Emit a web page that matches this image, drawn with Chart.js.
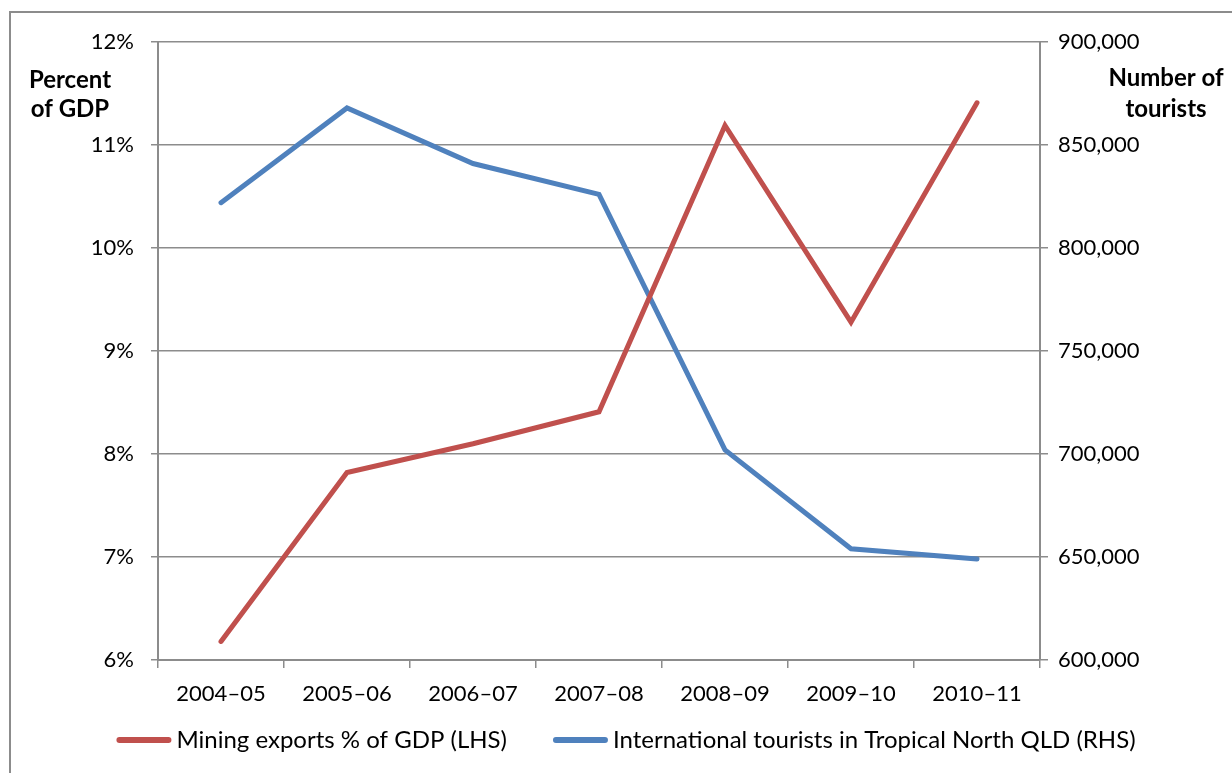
<!DOCTYPE html>
<html>
<head>
<meta charset="utf-8">
<script src="https://cdn.jsdelivr.net/npm/chart.js@4/dist/chart.umd.min.js"></script>
<style>
    html, body { margin: 0; padding: 0; background: #fff; overflow: hidden; }
    .frame {
        position: absolute; left: 9px; top: 11px; width: 1400px; height: 900px;
        border-left: 2px solid #8c8c8c; border-top: 2px solid #8c8c8c;
    }
    .wrap { position: absolute; left: 0; top: 0; width: 1232px; height: 773px; }
</style>
</head>
<body>
<div class="frame"></div>
<div class="wrap"><canvas id="chart" width="1232" height="773"></canvas></div>
<script>
const years = ['2004–05', '2005–06', '2006–07', '2007–08', '2008–09', '2009–10', '2010–11'];
const miningPct = [6.18, 7.82, 8.1, 8.41, 11.19, 9.28, 11.41];
const tourists = [822000, 868000, 841000, 826000, 702000, 654000, 649000];

const FONT = 'Lato, "Open Sans", sans-serif';
const gridGrey = '#8c8c8c';

// axis titles sit horizontally above the tick labels
const axisTitles = {
    id: 'axisTitles',
    afterDraw(chart) {
        const ctx = chart.ctx;
        ctx.save();
        ctx.fillStyle = '#000';
        ctx.font = 'bold 24px ' + FONT;
        ctx.textAlign = 'center';
        ctx.textBaseline = 'middle';
        ctx.fillText('Percent', 70, 80);
        ctx.fillText('of GDP', 70, 109);
        ctx.fillText('Number of', 1166, 78);
        ctx.fillText('tourists', 1166, 109);
        ctx.restore();
    }
};

// legend drawn by hand so the line samples sit close to their text
const bottomLegend = {
    id: 'bottomLegend',
    afterDraw(chart) {
        const ctx = chart.ctx;
        const sets = chart.data.datasets;
        const sample = 55, gap = 5, between = 46, y = 740;
        ctx.save();
        ctx.font = '24px ' + FONT;
        ctx.textBaseline = 'middle';
        const widths = sets.map(d => ctx.measureText(d.label).width);
        let total = widths.reduce((s, w) => s + sample + gap + w, 0) + between * (sets.length - 1);
        let x = 626 - total / 2;
        sets.forEach((d, i) => {
            ctx.strokeStyle = d.borderColor;
            ctx.lineWidth = 6;
            ctx.lineCap = 'round';
            ctx.beginPath();
            ctx.moveTo(x + 3, y);
            ctx.lineTo(x + sample - 3, y);
            ctx.stroke();
            ctx.fillStyle = '#000';
            ctx.fillText(d.label, x + sample + gap, y);
            x += sample + gap + widths[i] + between;
        });
        ctx.restore();
    }
};

const ctx = document.getElementById('chart').getContext('2d');
new Chart(ctx, {
    type: 'line',
    data: {
        labels: years,
        datasets: [
            {
                label: 'Mining exports % of GDP (LHS)',
                data: miningPct,
                yAxisID: 'y',
                borderColor: '#c0504d',
                backgroundColor: '#c0504d',
                borderWidth: 5,
                borderCapStyle: 'round',
                pointRadius: 0,
                tension: 0
            },
            {
                label: 'International tourists in Tropical North QLD (RHS)',
                data: tourists,
                yAxisID: 'y1',
                borderColor: '#4f81bd',
                backgroundColor: '#4f81bd',
                borderWidth: 5,
                borderCapStyle: 'round',
                pointRadius: 0,
                tension: 0
            }
        ]
    },
    options: {
        responsive: false,
        animation: false,
        layout: { padding: { top: 42, bottom: 65 } },
        plugins: {
            tooltip: { enabled: false },
            legend: { display: false }
        },
        scales: {
            x: {
                offset: true,
                grid: { offset: true, drawOnChartArea: false, color: gridGrey, tickLength: 8, lineWidth: 1.5 },
                border: { color: gridGrey, width: 2 },
                ticks: { color: '#000', font: { family: FONT, size: 22 }, padding: 13, maxRotation: 0 },
                afterFit(scale) { scale.height = 48; }
            },
            y: {
                position: 'left',
                min: 6, max: 12,
                grid: { color: gridGrey, lineWidth: 1.5, tickLength: 7 },
                border: { color: gridGrey, width: 2 },
                ticks: {
                    stepSize: 1, color: '#000', font: { family: FONT, size: 22 }, padding: 17,
                    callback: v => v + '%'
                },
                afterFit(scale) { scale.width = 158; }
            },
            y1: {
                position: 'right',
                min: 600000, max: 900000,
                grid: { drawOnChartArea: false, color: gridGrey, lineWidth: 1.5, tickLength: 8 },
                border: { color: gridGrey, width: 2 },
                ticks: {
                    stepSize: 50000, color: '#000', font: { family: FONT, size: 22 }, padding: 10,
                    callback: v => v.toLocaleString('en-US')
                },
                afterFit(scale) { scale.width = 192; }
            }
        }
    },
    plugins: [axisTitles, bottomLegend]
});
</script>
</body>
</html>
